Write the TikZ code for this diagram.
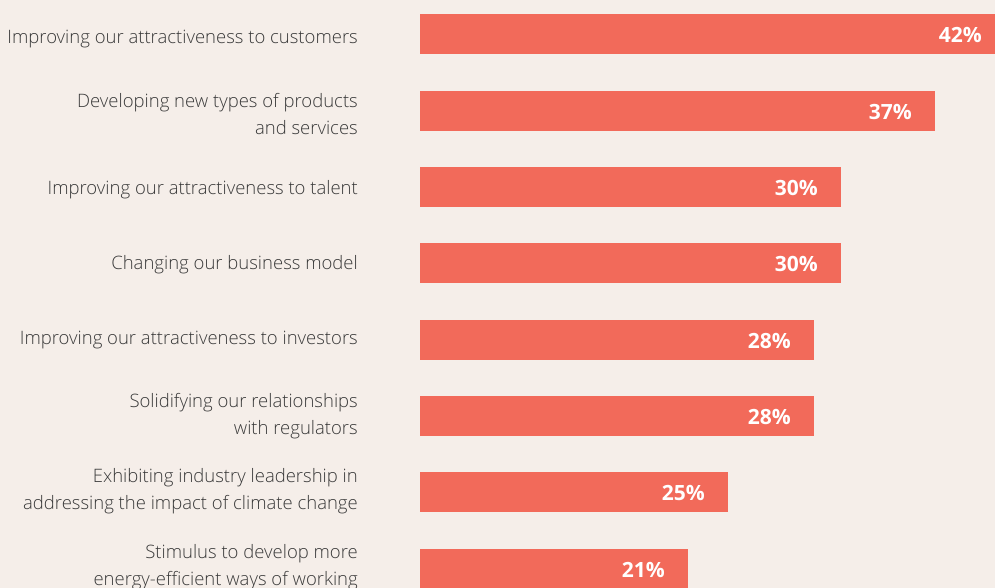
\documentclass[tikz,border=0pt]{standalone}
\usepackage{fontspec}
\setmainfont{Open Sans}
\IfFontExistsTF{Open Sans Light}{\newfontfamily\lightfont{Open Sans Light}}{\newfontfamily\lightfont{Open Sans}}
\definecolor{bg}{HTML}{F5EEE9}
\definecolor{barc}{HTML}{F26A5A}
\definecolor{txt}{HTML}{3A3A3A}
\tikzset{
  barbox/.style={fill=barc, draw=none},
  lbl/.style={anchor=east, align=right, text=txt, font=\lightfont\fontsize{18.5}{27}\selectfont, inner sep=0pt},
  pct/.style={anchor=east, text=white, font=\fontsize{21}{24}\selectfont\bfseries, inner sep=0pt}
}
\begin{document}
\begin{tikzpicture}[x=1pt,y=-1pt]
\useasboundingbox (0,0) rectangle (995,588);
\fill[bg] (0,0) rectangle (995,588);
\begin{scope}
\clip (0,0) rectangle (995,588);
\foreach \i/\c/\e/\p/\ly/\t in {
 1/34/1005/42/39/{Improving our attractiveness to customers},
 2/111/935/37/114/{Developing new types of products\\and services},
 3/187/841/30/190/{Improving our attractiveness to talent},
 4/263/841/30/265/{Changing our business model},
 5/340/814/28/340/{Improving our attractiveness to investors},
 6/416/814/28/416/{Solidifying our relationships\\with regulators},
 7/492/728/25/491/{Exhibiting industry leadership in\\addressing the impact of climate change},
 8/569/688/21/567/{Stimulus to develop more\\energy-efficient ways of working}} {
  \path[barbox] (420,\c-20) rectangle (\e,\c+20);
  \coordinate (bar\i) at (\e-23,\c+1);
  \node[pct] (p\i) at (bar\i) {\p\%};
  \node[lbl] (l\i) at (358,\ly) {\t};
}
\end{scope}
\end{tikzpicture}
\end{document}
